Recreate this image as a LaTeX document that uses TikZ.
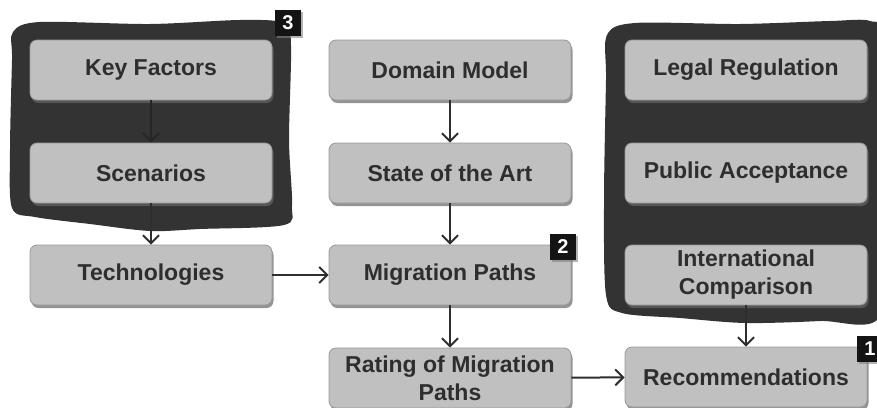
\documentclass[tikz,border=0pt]{standalone}
\usepackage{fontspec}
\setmainfont{Liberation Sans}
\usetikzlibrary{arrows.meta,shadows}
\definecolor{boxgray}{HTML}{C0C0C0}
\definecolor{edgegray}{HTML}{989898}
\definecolor{blobgray}{HTML}{333333}
\definecolor{textgray}{HTML}{2E2E2E}
\tikzset{
  stage/.style={draw=edgegray, line width=0.8pt, fill=boxgray, rounded corners=7pt,
    minimum width=242pt, minimum height=60pt, inner sep=0pt, align=center,
    text=textgray, font=\bfseries\fontsize{23}{28}\selectfont,
    drop shadow={shadow xshift=1.5pt, shadow yshift=-3pt, fill=black!60, opacity=.7}},
  badge/.style={fill=black!92, text=white, minimum size=26pt, inner sep=0pt,
    font=\bfseries\fontsize{20}{20}\selectfont,
    drop shadow={shadow xshift=1.5pt, shadow yshift=-2pt, fill=black!50, opacity=.6}},
  blob/.style={fill=blobgray},
  flow/.style={-{Straight Barb[length=8pt,width=16pt]}, line width=2pt, draw=textgray}
}
\begin{document}
\begin{tikzpicture}[x=1pt,y=-1pt]
      \useasboundingbox (0,0) rectangle (877,407);
      % dark groups
      \fill[blob] plot[smooth cycle, tension=0.5] coordinates {
        (13,32) (40,22) (150,24) (240,20) (284,23) (291,45) (289,140)
        (292,205) (284,225) (200,229) (150,231) (90,224) (35,217) (12,208) (10,150) (12,60)};
      \fill[blob] plot[smooth cycle, tension=0.5] coordinates {
        (607,35) (635,23) (740,24) (830,21) (870,21) (881,40) (881,200) (880,316)
        (820,321) (745,323) (680,318) (622,313) (606,295) (604,200) (606,80)};
      \path
        (151,70) node[stage] (kf){Key Factors}
        (151,173) node[stage] (sc){Scenarios}
        (151,275) node[stage] (tec){Technologies}
        (450,70) node[stage] (dm){Domain Model}
        (450,173) node[stage] (sota){State of the Art}
        (450,275) node[stage] (mp){Migration Paths}
        (450,378) node[stage] (rmp){Rating of Migration\\Paths}
        (746,70) node[stage] (lr){Legal Regulation}
        (746,173) node[stage] (pa){Public Acceptance}
        (746,275) node[stage] (ic){International\\Comparison}
        (746,377) node[stage] (rec){Recommendations};
      \path
        (288,23) node[badge] (b3){3}
        (563,247) node[badge] (b2){2}
        (870,349) node[badge] (b1){1};
      \begin{scope}[flow]
        \draw[draw=black!85] (kf) to (sc);
        \draw (sc) to (tec);
        \draw (tec) to (mp);
        \draw (dm) to (sota);
        \draw (sota) to (mp);
        \draw (mp) to (rmp);
        \draw (rmp) to (rec);
        \draw (ic) to (rec);
      \end{scope}
    \end{tikzpicture}
\end{document}
